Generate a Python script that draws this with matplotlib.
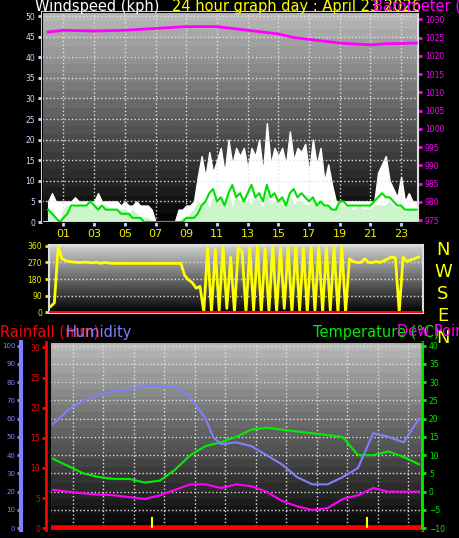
import numpy as np
import matplotlib.pyplot as plt

# ---- data ----
hours_q = np.arange(0, 24.01, 0.25)  # quarter-hour samples, 97 points

gust = [5, 7, 5, 5, 5, 5, 5, 6, 5, 5, 5, 5, 5, 7, 5, 5, 5, 5, 5, 4,
        5, 4, 4, 5, 4, 4, 4, 3, 0, 0, 0, 0, 0, 0, 3, 3, 4, 4, 5, 11,
        16, 11, 17, 12, 15, 18, 12, 20, 14, 18, 16, 18, 13, 18, 16, 20, 12, 24, 14, 18,
        16, 18, 14, 22, 15, 18, 17, 19, 12, 20, 14, 18, 10, 14, 9, 5, 5, 5, 5, 5,
        5, 5, 5, 5, 5, 5, 12, 14, 16, 10, 8, 6, 11, 5, 7, 5, 5]
wind = [3, 3, 1, 0, 3, 4, 3, 4, 4, 4, 4, 3, 4, 4, 3, 4, 3, 3, 3, 3,
        3, 2, 3, 2, 1, 1, 1, 0, 0, 0, 0, 0, 0, 0, 0, 1, 1, 2, 3, 5,
        4, 5, 3, 6, 4, 5, 5, 7, 3, 6, 5, 5, 5, 4, 6, 5, 3, 7, 4, 5,
        5, 4, 5, 6, 4, 5, 5, 4, 4, 5, 4, 5, 3, 4, 2, 4, 4, 4, 4, 3,
        3, 4, 3, 3, 3, 4, 4, 4, 4, 5, 4, 3, 4, 2, 3, 3, 3]
avg = [3, 2, 1, 0, 1, 2, 4, 4, 4, 4, 4, 5, 4, 3, 4, 3, 3, 3, 3, 2,
       2, 2, 1, 1, 1, 0, 0, 0, 0, 0, 0, 0, 0, 0, 0, 0, 1, 1, 1, 2,
       4, 5, 7, 8, 5, 6, 4, 7, 9, 6, 7, 5, 7, 9, 6, 7, 5, 9, 6, 7,
       5, 6, 4, 7, 8, 6, 7, 6, 5, 6, 4, 5, 4, 4, 3, 3, 5, 5, 4, 4,
       4, 4, 4, 4, 4, 5, 6, 7, 6, 6, 5, 4, 4, 3, 3, 3, 3]
direction = [30, 50, 355, 290, 280, 275, 272, 270, 270, 272, 270, 268, 272, 265, 270, 268, 265, 265, 265, 265,
             265, 265, 265, 265, 265, 265, 265, 265, 265, 265, 265, 265, 265, 265, 265, 200, 175, 160, 130, 140,
             0, 350, 0, 340, 10, 360, 20, 300, 0, 355, 330, 0, 350, 10, 360, 0, 345, 5, 360, 0,
             350, 20, 355, 0, 360, 10, 350, 0, 355, 5, 360, 0, 350, 10, 355, 0, 360, 0, 290, 275,
             270, 270, 290, 270, 270, 275, 270, 280, 290, 300, 295, 0, 300, 275, 285, 290, 300]

hours_p = [0, 1, 3, 5, 7, 9, 11, 13, 15, 16, 17, 18, 19, 21, 22, 24]
pressure = [1026.5, 1027, 1026.8, 1027, 1027.5, 1028, 1028, 1027, 1026, 1025, 1024.5, 1024,
            1023.5, 1023, 1023.3, 1023.5]

hours_h = [0, 1, 2, 3, 4, 5, 6, 7, 8, 9, 10, 10.5, 11, 12, 13, 14, 15, 16, 17, 18, 19, 20, 21, 22, 23, 24]
humidity = [57, 65, 70, 73, 75, 76, 78, 78, 77, 72, 60, 50, 46, 47, 45, 40, 35, 28, 24, 24,
            28, 33, 52, 50, 47, 60]
hours_t = [0, 1, 2, 3, 4, 5, 6, 7, 8, 9, 10, 11, 12, 13, 14, 15, 16, 17, 18, 19, 20, 21, 22, 23, 24]
temperature = [9, 7, 5, 4, 3.5, 3.5, 2.5, 3, 6, 10, 12.5, 13.5, 15, 17, 17.5, 17, 16.5, 16, 15.5,
               15, 10, 10, 11, 9.5, 7.5]
dewpoint = [0.5, 0, -0.5, -0.8, -1, -1.5, -2, -1, 0.5, 2, 2, 1, 2, 1.5, 0, -2.5, -4, -5, -4.5,
            -2, -1, 1, 0, 0, 0]
rain_hours = [0, 24]
rainfall = [0, 0]
rain_marks = [6.5, 20.6]

W, H = 460, 538
fig = plt.figure(figsize=(W / 100, H / 100), dpi=100, facecolor='black')


def add_ax(x0, y0, x1, y1):
    return fig.add_axes([x0 / W, 1 - y1 / H, (x1 - x0) / W, (y1 - y0) / H])


def background(ax, xlim, ylim, top=0.72):
    steps = np.linspace(top, 0.02, 24)
    grad = np.repeat(steps, 2)[:, None]
    ax.imshow(grad, cmap='gray', vmin=0, vmax=1, aspect='auto',
              extent=[xlim[0], xlim[1], ylim[0], ylim[1]], zorder=0)
    ax.set_xlim(xlim)
    ax.set_ylim(ylim)


def style(ax, col_left):
    for s in ax.spines.values():
        s.set_color('#dddddd')
        s.set_linewidth(1.5)
    ax.tick_params(colors=col_left, labelsize=5.5, length=3, width=2, pad=2)


# ---- top: wind + barometer ----
ax1 = add_ax(42, 12, 418, 222)
background(ax1, (-0.4, 24.1), (0, 51))
ax1.fill_between(hours_q, gust, color='white', zorder=2)
ax1.fill_between(hours_q, wind, color='#ccf5cc', zorder=3)
ax1.plot(hours_q, avg, color='#00e000', lw=1.5, zorder=4)
ax1.set_yticks(range(0, 51, 5))
ax1.set_xticks(range(1, 24, 2))
ax1.set_xticklabels([f'{h:02d}' for h in range(1, 24, 2)])
ax1.grid(color='#e0e0e0', ls=':', lw=1, zorder=1)
ax1.set_axisbelow(False)
style(ax1, '#ccddff')
ax1.tick_params(axis='x', labelsize=8, length=3)
for lab in ax1.get_xticklabels():
    lab.set_color('#eeee00')
ax1b = ax1.twinx()
ax1b.plot(hours_p, pressure, color='#ff00ff', lw=2)
ax1b.set_ylim(974.5, 1032)
ax1b.set_yticks(range(975, 1031, 5))
ax1b.tick_params(colors='#ff00ff', labelsize=5.5, length=3, width=2, pad=2)
ax1b.spines['right'].set_color('#dddddd')
ax1b.set_xlim(-0.4, 24.1)

# ---- middle: wind direction ----
ax2 = add_ax(49, 245, 423, 313)
background(ax2, (-0.1, 24.3), (-5, 365), top=0.8)
ax2.plot(hours_q, direction, color='#ffff00', lw=2, zorder=3)
ax2.axhline(0, color='red', lw=1.5, zorder=4)
ax2.set_yticks([0, 90, 180, 270, 360])
ax2.set_xticks([])
ax2.grid(axis='y', color='#e0e0e0', ls=':', lw=1)
style(ax2, '#eeee00')
for i, c in enumerate('NWSEN'):
    fig.text(443 / W, 1 - (250 + i * 22) / H, c, color='#ffff00', fontsize=13,
             ha='center', va='center')

# ---- bottom: humidity, rain, temperature, dew point ----
ax3 = add_ax(50, 342, 422, 530)
background(ax3, (-0.2, 24.2), (-10.5, 41))
ax3.grid(color='#e0e0e0', ls=':', lw=1, zorder=1)
ax3.set_xticks(np.arange(1.3, 24, 2))
ax3.set_yticks(range(-10, 41, 5))
ax3.tick_params(labelbottom=False, labelleft=False, left=False)
ax3.plot(hours_t, temperature, color='#00ee00', lw=1.5, zorder=3)
ax3.plot(hours_t, dewpoint, color='#ff00ff', lw=1.5, zorder=3)
ax3.plot(hours_h, [h / 2 - 10 for h in humidity], color='#8080ff', lw=1.5, zorder=3)
ax3.plot(rain_hours, [r * 5 / 3 - 10 for r in rainfall], color='red', lw=4, zorder=4)
ax3.vlines(rain_marks, -10, -7, color='#ffff00', lw=1.5, zorder=4)
for s in ax3.spines.values():
    s.set_color('#dddddd')
ax3b = ax3.twinx()
ax3b.set_ylim(-10.5, 41)
ax3b.set_yticks(range(-10, 41, 5))
ax3b.tick_params(colors='#00ee00', labelsize=5.5, length=3, width=2, pad=2)
ax3b.spines['right'].set_color('#00ee00')
ax3b.spines['right'].set_linewidth(2)

ax_rain = ax3.twinx()
ax_rain.set_ylim(-0.3, 30.9)
ax_rain.set_yticks(range(0, 31, 5))
ax_rain.yaxis.set_ticks_position('left')
ax_rain.spines['left'].set_visible(True)
ax_rain.spines['left'].set_position(('outward', 3))
ax_rain.spines['left'].set_color('red')
ax_rain.spines['left'].set_linewidth(2)
ax_rain.tick_params(colors='red', labelsize=5.5, length=3, width=2, pad=1)

ax_hum = ax3.twinx()
ax_hum.set_ylim(-1, 102)
ax_hum.set_yticks(range(0, 101, 10))
ax_hum.yaxis.set_ticks_position('left')
ax_hum.spines['left'].set_visible(True)
ax_hum.spines['left'].set_position(('outward', 21))
ax_hum.spines['left'].set_color('#8080ff')
ax_hum.spines['left'].set_linewidth(3)
ax_hum.tick_params(colors='#8080ff', labelsize=5, length=3, width=2, pad=1)
for a in (ax_rain, ax_hum):
    for k in ('right', 'top', 'bottom'):
        a.spines[k].set_visible(False)

# ---- titles ----
fig.text(35 / W, 1 - 6 / H, 'Windspeed (kph)', color='white', fontsize=10.5, va='center')
fig.text(172 / W, 1 - 6 / H, '24 hour graph day : April 23 2026', color='#ffff00', fontsize=10.5, va='center')
fig.text(373 / W, 1 - 6 / H, 'Barometer (hPa)', color='#ff00ff', fontsize=10.5, va='center')
fig.text(0, 1 - 332 / H, 'Rainfall (mm)', color='red', fontsize=10.5, va='center')
fig.text(66 / W, 1 - 332 / H, 'Humidity', color='#8080ff', fontsize=10.5, va='center')
fig.text(313 / W, 1 - 332 / H, 'Temperature (°C)', color='#00ee00', fontsize=10.5, va='center')
fig.text(397 / W, 1 - 332 / H, 'Dew Point', color='#ff00ff', fontsize=10.5, va='center')

fig.savefig('out.png', dpi=100, facecolor='black')
